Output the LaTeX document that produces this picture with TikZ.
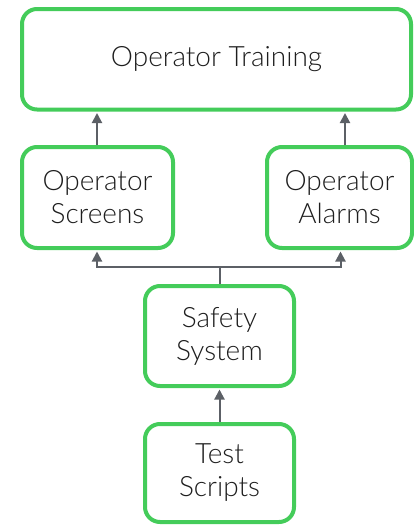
\documentclass[tikz,border=0pt]{standalone}
\usepackage{fontspec}
\setmainfont{Lato}[UprightFont={* Light}]
\usetikzlibrary{arrows.meta}
\definecolor{boxgreen}{RGB}{68,204,90}
\definecolor{linkgray}{RGB}{92,96,102}
\definecolor{txt}{RGB}{30,30,30}
\tikzset{
  blk/.style={draw=boxgreen, line width=4pt, rounded corners=15pt, fill=white,
    align=center, text=txt, inner sep=0pt,
    font=\fontsize{28}{33}\selectfont},
  link/.style={draw=linkgray, line width=2pt,
    -{Triangle[width=10pt,length=10pt]}, shorten >=1.5pt},
  plain/.style={draw=linkgray, line width=2pt}
}
\begin{document}
\begin{tikzpicture}[x=1pt,y=-1pt]
\useasboundingbox (0,0) rectangle (413,525);
\node[blk, minimum width=389pt, minimum height=100.5pt] (train) at (216.5,59.25) {Operator Training};
\node[blk, minimum width=151pt, minimum height=101pt] (screens) at (97.5,197.5) {Operator\\Screens};
\node[blk, minimum width=145pt, minimum height=101pt] (alarms) at (339.5,197.5) {Operator\\Alarms};
\node[blk, minimum width=149pt, minimum height=100pt] (safety) at (219.5,336) {Safety\\System};
\node[blk, minimum width=149pt, minimum height=98pt] (test) at (219.5,473) {Test\\Scripts};
\coordinate (split) at (219.5,267);
% upward links into the training block
\draw[link] ([xshift=-0.5pt]screens.north) -- ([xshift=-0.5pt]screens.north |- train.south);
\draw[link] ([xshift=5.5pt]alarms.north) -- ([xshift=5.5pt]alarms.north |- train.south);
% safety system fans out to screens and alarms
\draw[plain] (safety.north) -- (split);
\draw[link] (split) -| ([xshift=-0.5pt]screens.south);
\draw[link] (split) -| ([xshift=1pt]alarms.south);
% test scripts feed the safety system
\draw[link] (test.north) -- (safety.south);
\end{tikzpicture}
\end{document}
